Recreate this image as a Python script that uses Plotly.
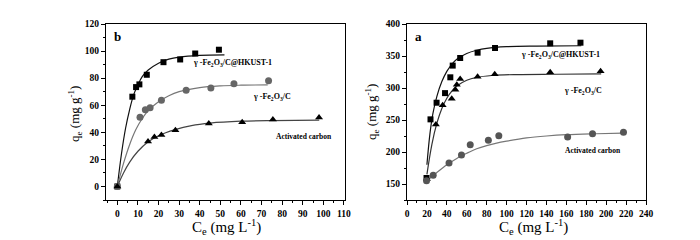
import plotly.graph_objects as go

# ---- Panel b (left) data ----
b_hk_x = [0, 7.3, 9.1, 10.7, 14.3, 22.4, 30.5, 37.8, 49.3]
b_hk_y = [0, 66.3, 73.4, 75.4, 82.5, 91.8, 93.8, 98.2, 101]
b_fe_x = [0, 11, 13.6, 15.9, 21.4, 33.4, 45.4, 56.6, 73.4]
b_fe_y = [0, 51.2, 56.7, 58.2, 63.6, 71, 72.7, 75.9, 78]
b_ac_x = [0, 14.9, 18, 21.4, 28.2, 44.4, 60.6, 75.5, 97.9]
b_ac_y = [0, 33.2, 36.6, 38.1, 41.6, 46.5, 47.5, 49.4, 50.9]

# fitted curves
b_hk_fx = [0, 2, 4, 6, 8, 10, 12, 15, 20, 25, 30, 40, 52]
b_hk_fy = [0, 24, 43, 57, 68, 75, 81, 86, 91, 94, 95.5, 96.8, 97.2]
b_fe_fx = [0, 3, 6, 9, 12, 15, 20, 25, 30, 40, 50, 60, 73]
b_fe_fy = [0, 17, 31, 42, 50, 56, 62.5, 67, 70, 73, 74.3, 74.8, 75]
b_ac_fx = [0, 3, 6, 10, 15, 20, 28, 36, 45, 60, 75, 98]
b_ac_fy = [0, 10, 18, 26, 33, 37.5, 42, 45, 46.8, 48.2, 48.7, 49]

# ---- Panel a (right) data ----
a_hk_x = [19.6, 23.6, 29.7, 38.2, 43.5, 45.9, 53.4, 70.9, 88.4, 143.8, 174.2]
a_hk_y = [159.4, 251, 277, 292, 316.7, 335, 346.9, 355.2, 362.5, 369.8, 370.8]
a_fe_x = [20, 29, 35.8, 44.9, 48.6, 50, 53.4, 70.9, 88.1, 143.8, 194.4]
a_fe_y = [158, 243, 273, 283.3, 297.3, 305.2, 314, 317.7, 321.4, 324.5, 326]
a_ac_x = [19.6, 26.3, 42.2, 54.7, 63.5, 81.7, 92.2, 161.3, 186.3, 217.4]
a_ac_y = [155.2, 163.6, 182.8, 195.3, 211.4, 218.2, 225.5, 223.4, 228.6, 230.7]

a_hk_fx = [20, 23, 26, 30, 35, 40, 45, 50, 60, 70, 80, 100, 130, 175]
a_hk_fy = [180, 228, 260, 287, 310, 326, 337, 345, 354, 359, 362, 364.5, 365.5, 366]
a_fe_fx = [20, 25, 30, 35, 40, 45, 50, 60, 70, 85, 110, 150, 195]
a_fe_fy = [165, 212, 245, 268, 284, 295, 303, 312, 316.5, 319.5, 321, 321.5, 322]
a_ac_fx = [20, 30, 40, 50, 60, 70, 80, 90, 100, 120, 140, 160, 190, 217]
a_ac_fy = [155, 168, 180, 190, 198, 205, 210, 214, 217, 222, 225, 227, 228.5, 229.5]

FONT = "Liberation Serif"
fig = go.Figure()

def line(x, y, color, xa, ya):
    fig.add_trace(go.Scatter(x=x, y=y, mode="lines", line=dict(color=color, width=1.2, shape="spline"),
                             xaxis=xa, yaxis=ya, showlegend=False, hoverinfo="skip"))

def pts(x, y, color, symbol, xa, ya, size=7):
    fig.add_trace(go.Scatter(x=x, y=y, mode="markers",
                             marker=dict(color=color, symbol=symbol, size=size, line=dict(width=0)),
                             xaxis=xa, yaxis=ya, showlegend=False))

# left panel
line(b_hk_fx, b_hk_fy, "#111111", "x", "y")
line(b_fe_fx, b_fe_fy, "#777777", "x", "y")
line(b_ac_fx, b_ac_fy, "#444444", "x", "y")
pts(b_hk_x, b_hk_y, "#000000", "square", "x", "y", 6)
pts(b_fe_x, b_fe_y, "#666666", "circle", "x", "y", 7)
pts(b_ac_x, b_ac_y, "#000000", "triangle-up", "x", "y", 7)

# right panel
line(a_hk_fx, a_hk_fy, "#111111", "x2", "y2")
line(a_fe_fx, a_fe_fy, "#333333", "x2", "y2")
line(a_ac_fx, a_ac_fy, "#777777", "x2", "y2")
pts(a_hk_x, a_hk_y, "#000000", "square", "x2", "y2", 6)
pts(a_fe_x, a_fe_y, "#000000", "triangle-up", "x2", "y2", 7)
pts(a_ac_x, a_ac_y, "#555555", "circle", "x2", "y2", 7)

W, H = 700, 240
def px(xp): return xp / W
def py(yp): return 1 - yp / H

axis_common = dict(showline=True, linecolor="#000", linewidth=1.3, mirror=True, ticks="outside",
                   ticklen=4, tickwidth=1, tickcolor="#000", showgrid=False, zeroline=False,
                   automargin=False,
                   tickfont=dict(family=FONT, size=9.5, color="#000", weight="bold"))

fig.update_layout(
    width=W, height=H, margin=dict(l=0, r=0, t=0, b=0, autoexpand=False),
    paper_bgcolor="white", plot_bgcolor="white",
    xaxis=dict(domain=[px(98), px(337)], range=[-5.5, 110.5], dtick=10, tick0=0,
               minor=dict(dtick=5, ticks="outside", ticklen=2, tickcolor="#000"), anchor="y", **axis_common),
    yaxis=dict(domain=[py(192), py(16)], range=[-10, 120], dtick=20, tick0=0,
               minor=dict(dtick=10, ticks="outside", ticklen=2, tickcolor="#000"), anchor="x", **axis_common),
    xaxis2=dict(domain=[px(399), px(638)], range=[0, 240], dtick=20, tick0=0,
                minor=dict(dtick=10, ticks="outside", ticklen=2, tickcolor="#000"), anchor="y2", **axis_common),
    yaxis2=dict(domain=[py(192), py(16)], range=[125, 400], dtick=50, tick0=0,
                minor=dict(dtick=25, ticks="outside", ticklen=2, tickcolor="#000"), anchor="x2", **axis_common),
)

ann = []
def txt(x, y, s, size=8, bold=True, angle=0, xanchor="left"):
    ann.append(dict(x=px(x), y=py(y), xref="paper", yref="paper", text=s, showarrow=False,
                    xanchor=xanchor, yanchor="middle", textangle=angle,
                    font=dict(family=FONT, size=size, color="#000", weight="bold" if bold else "normal")))

hk = "γ -Fe<sub>2</sub>O<sub>3</sub>/C@HKUST-1"
fe = "γ -Fe<sub>2</sub>O<sub>3</sub>/C"
txt(104, 28, "b", size=13)
txt(405, 28, "a", size=13)
txt(183, 55, hk)
txt(243, 89, fe)
txt(266, 128, "Activated carbon", size=7.5)
txt(511, 47, hk)
txt(554, 83, fe)
txt(555, 142, "Activated carbon", size=7.5)
txt(218, 219, "C<sub>e</sub> (mg L<sup>-1</sup>)", size=15, bold=False, xanchor="center")
txt(525, 219, "C<sub>e</sub> (mg L<sup>-1</sup>)", size=15, bold=False, xanchor="center")
txt(67, 106, "q<sub>e</sub> (mg g<sup>-1</sup>)", size=13, bold=False, angle=-90, xanchor="center")
txt(364, 104, "q<sub>e</sub> (mg g<sup>-1</sup>)", size=13, bold=False, angle=-90, xanchor="center")
fig.update_layout(annotations=ann)

fig.write_html("out.html")
